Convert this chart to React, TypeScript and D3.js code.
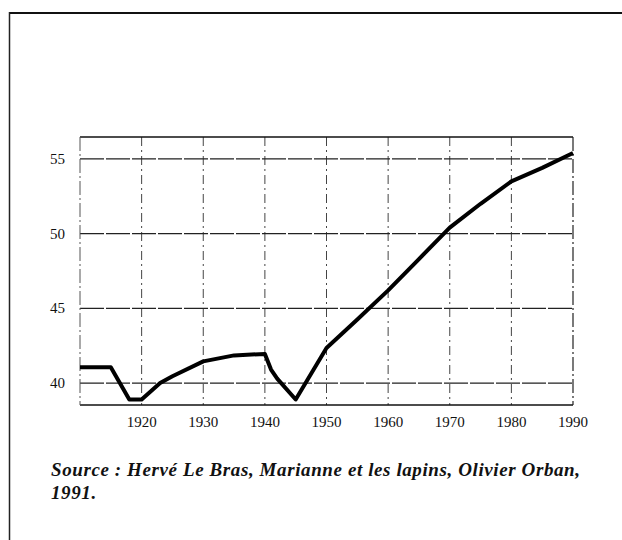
import { useRef, useEffect } from "react"
import * as d3 from "d3"

// years and values
const years = [1910, 1915, 1918, 1920, 1923, 1925, 1930, 1935, 1940, 1941, 1942, 1945, 1950, 1955, 1960, 1965, 1970, 1975, 1980, 1985, 1990]
const values = [41.05, 41.05, 38.9, 38.9, 40.0, 40.45, 41.45, 41.85, 41.95, 40.9, 40.3, 38.9, 42.35, 44.25, 46.2, 48.3, 50.4, 52.0, 53.5, 54.4, 55.4]

const xTicks = [1920, 1930, 1940, 1950, 1960, 1970, 1980, 1990]
const xGrid = [1920, 1930, 1940, 1950, 1960, 1970, 1980]
const yTicks = [40, 45, 50, 55]

const sourceLines = ["Source : Hervé Le Bras, Marianne et les lapins, Olivier Orban,", "1991."]

export default function App() {
  const svgRef = useRef<SVGSVGElement>(null)

  useEffect(() => {
    if (!svgRef.current) return
    const svg = d3.select(svgRef.current)
    svg.selectAll("*").remove()

    const left = 80
    const right = 573
    const top = 137
    const bottom = 405

    const x = d3.scaleLinear().domain([1910, 1990]).range([left, right])
    const y = d3.scaleLinear().domain([38.53, 56.47]).range([bottom, top])

    // outer frame (top and left edges only visible)
    svg.append("line").attr("x1", 9).attr("x2", 622).attr("y1", 13).attr("y2", 13).attr("stroke", "#111").attr("stroke-width", 2)
    svg.append("line").attr("x1", 9.5).attr("x2", 9.5).attr("y1", 12).attr("y2", 540).attr("stroke", "#222").attr("stroke-width", 1.5)

    const dash = "14,3,2,3"

    // grid
    const g = svg.append("g")
    g.selectAll(".vg")
      .data(xGrid)
      .enter()
      .append("line")
      .attr("x1", (d) => x(d))
      .attr("x2", (d) => x(d))
      .attr("y1", top)
      .attr("y2", bottom)
      .attr("stroke", "#444")
      .attr("stroke-width", 1)
      .attr("stroke-dasharray", "9,4,2,4")

    g.selectAll(".hg")
      .data(yTicks)
      .enter()
      .append("line")
      .attr("x1", left)
      .attr("x2", right)
      .attr("y1", (d) => y(d))
      .attr("y2", (d) => y(d))
      .attr("stroke", "#222")
      .attr("stroke-width", 1.2)
      .attr("stroke-dasharray", "24,2")

    // plot border
    g.append("line").attr("x1", left).attr("x2", right).attr("y1", top).attr("y2", top).attr("stroke", "#111").attr("stroke-width", 1.5)
    g.append("line").attr("x1", left).attr("x2", right).attr("y1", bottom).attr("y2", bottom).attr("stroke", "#111").attr("stroke-width", 1.5)
    g.append("line").attr("x1", left).attr("x2", left).attr("y1", top).attr("y2", bottom).attr("stroke", "#555").attr("stroke-width", 1).attr("stroke-dasharray", dash)
    g.append("line").attr("x1", right).attr("x2", right).attr("y1", top).attr("y2", bottom).attr("stroke", "#222").attr("stroke-width", 1.2).attr("stroke-dasharray", dash)

    // tick labels
    const font = "'Liberation Serif', 'Times New Roman', serif"
    svg
      .selectAll(".xl")
      .data(xTicks)
      .enter()
      .append("text")
      .attr("x", (d) => x(d))
      .attr("y", 427)
      .attr("text-anchor", "middle")
      .style("font-family", font)
      .style("font-size", "15px")
      .attr("fill", "#111")
      .text((d) => d)

    svg
      .selectAll(".yl")
      .data(yTicks)
      .enter()
      .append("text")
      .attr("x", 65)
      .attr("y", (d) => y(d) + 5)
      .attr("text-anchor", "end")
      .style("font-family", font)
      .style("font-size", "15px")
      .attr("fill", "#111")
      .text((d) => d)

    // data line
    const line = d3
      .line<number>()
      .x((_, i) => x(years[i]))
      .y((d) => y(d))

    svg
      .append("path")
      .datum(values)
      .attr("d", line)
      .attr("fill", "none")
      .attr("stroke", "#000")
      .attr("stroke-width", 4)
      .attr("stroke-linejoin", "round")

    // source note
    svg
      .selectAll(".src")
      .data(sourceLines)
      .enter()
      .append("text")
      .attr("x", 51)
      .attr("y", (_, i) => 476 + i * 23)
      .style("font-family", font)
      .style("font-size", "19px")
      .style("font-style", "italic")
      .style("font-weight", "bold")
      .style("letter-spacing", "0.6px")
      .attr("fill", "#111")
      .text((d) => d)
  }, [])

  return (
    <div style={{ position: "absolute", left: 0, top: 0, width: 622, height: 540, background: "#fff" }}>
      <svg ref={svgRef} width={622} height={540} />
    </div>
  )
}
